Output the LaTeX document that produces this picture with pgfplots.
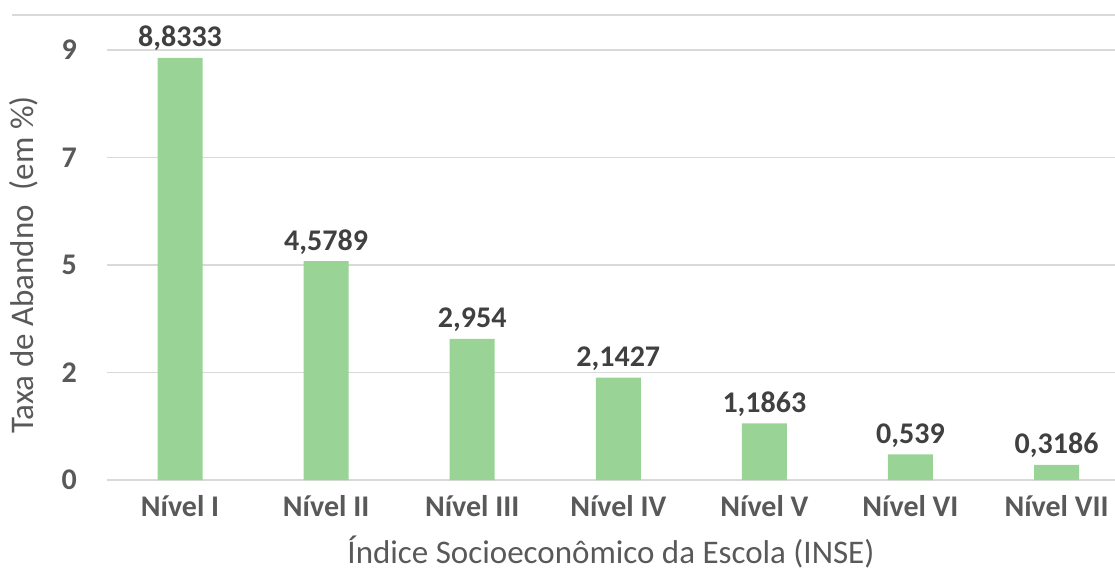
\documentclass[border=0pt]{standalone}
\usepackage{pgfplots}
\pgfplotsset{compat=1.18}
\usepackage{fontspec}
\setmainfont{Carlito}

\definecolor{barGreen}{RGB}{153,212,150}
\definecolor{textGray}{RGB}{89,89,89}
\definecolor{labelGray}{RGB}{64,64,64}
\definecolor{gridGray}{RGB}{217,217,217}

\newcommand{\lblfont}{\fontsize{15}{18}\selectfont}
\newcommand{\ttlfont}{\fontsize{16.5}{20}\selectfont}

\begin{document}
\begin{tikzpicture}
  % fixed page frame
  \path[use as bounding box] (-53.5pt,-45pt) rectangle (504pt,240pt);
  % thin rule along the top of the chart area
  \draw[gridGray, line width=0.8pt] (-47.5pt,232.5pt) -- (504pt,232.5pt);
  \begin{axis}[
    scale only axis,
    width=504pt, height=215pt,
    xmin=-0.5, xmax=6.4,
    ymin=0, ymax=9,
    axis line style={draw=none},
    major tick length=0pt,
    ymajorgrids,
    grid style={gridGray, line width=0.8pt},
    ytick={0,2.25,4.5,6.75,9},
    yticklabels={0,2,5,7,9},
    xtick={0,1,2,3,4,5,6},
    xticklabels={Nível I,Nível II,Nível III,Nível IV,Nível V,Nível VI,Nível VII},
    xticklabel style={font=\lblfont\bfseries, text=textGray, yshift=-4pt},
    yticklabel style={font=\lblfont\bfseries, text=textGray, xshift=-11.5pt},
    xlabel={Índice Socioeconômico da Escola (INSE)},
    ylabel={Taxa de Abandno\ \ (em \%)},
    xlabel style={font=\ttlfont, text=textGray, at={(axis description cs:0.5,0)}, anchor=center, yshift=-36pt},
    ylabel style={font=\ttlfont, text=textGray, at={(axis description cs:0,0.5)}, anchor=center, yshift=41.5pt},
    clip=false,
  ]
    \addplot[
      ybar, bar width=22.5pt, fill=barGreen, draw=none,
      point meta=explicit symbolic,
      nodes near coords,
      nodes near coords style={font=\lblfont\bfseries, text=labelGray},
    ] coordinates {
      (0,8.8333) [8,8333]
      (1,4.5789) [4,5789]
      (2,2.954)  [2,954]
      (3,2.1427) [2,1427]
      (4,1.1863) [1,1863]
      (5,0.539)  [0,539]
      (6,0.3186) [0,3186]
    };
  \end{axis}
\end{tikzpicture}
\end{document}
